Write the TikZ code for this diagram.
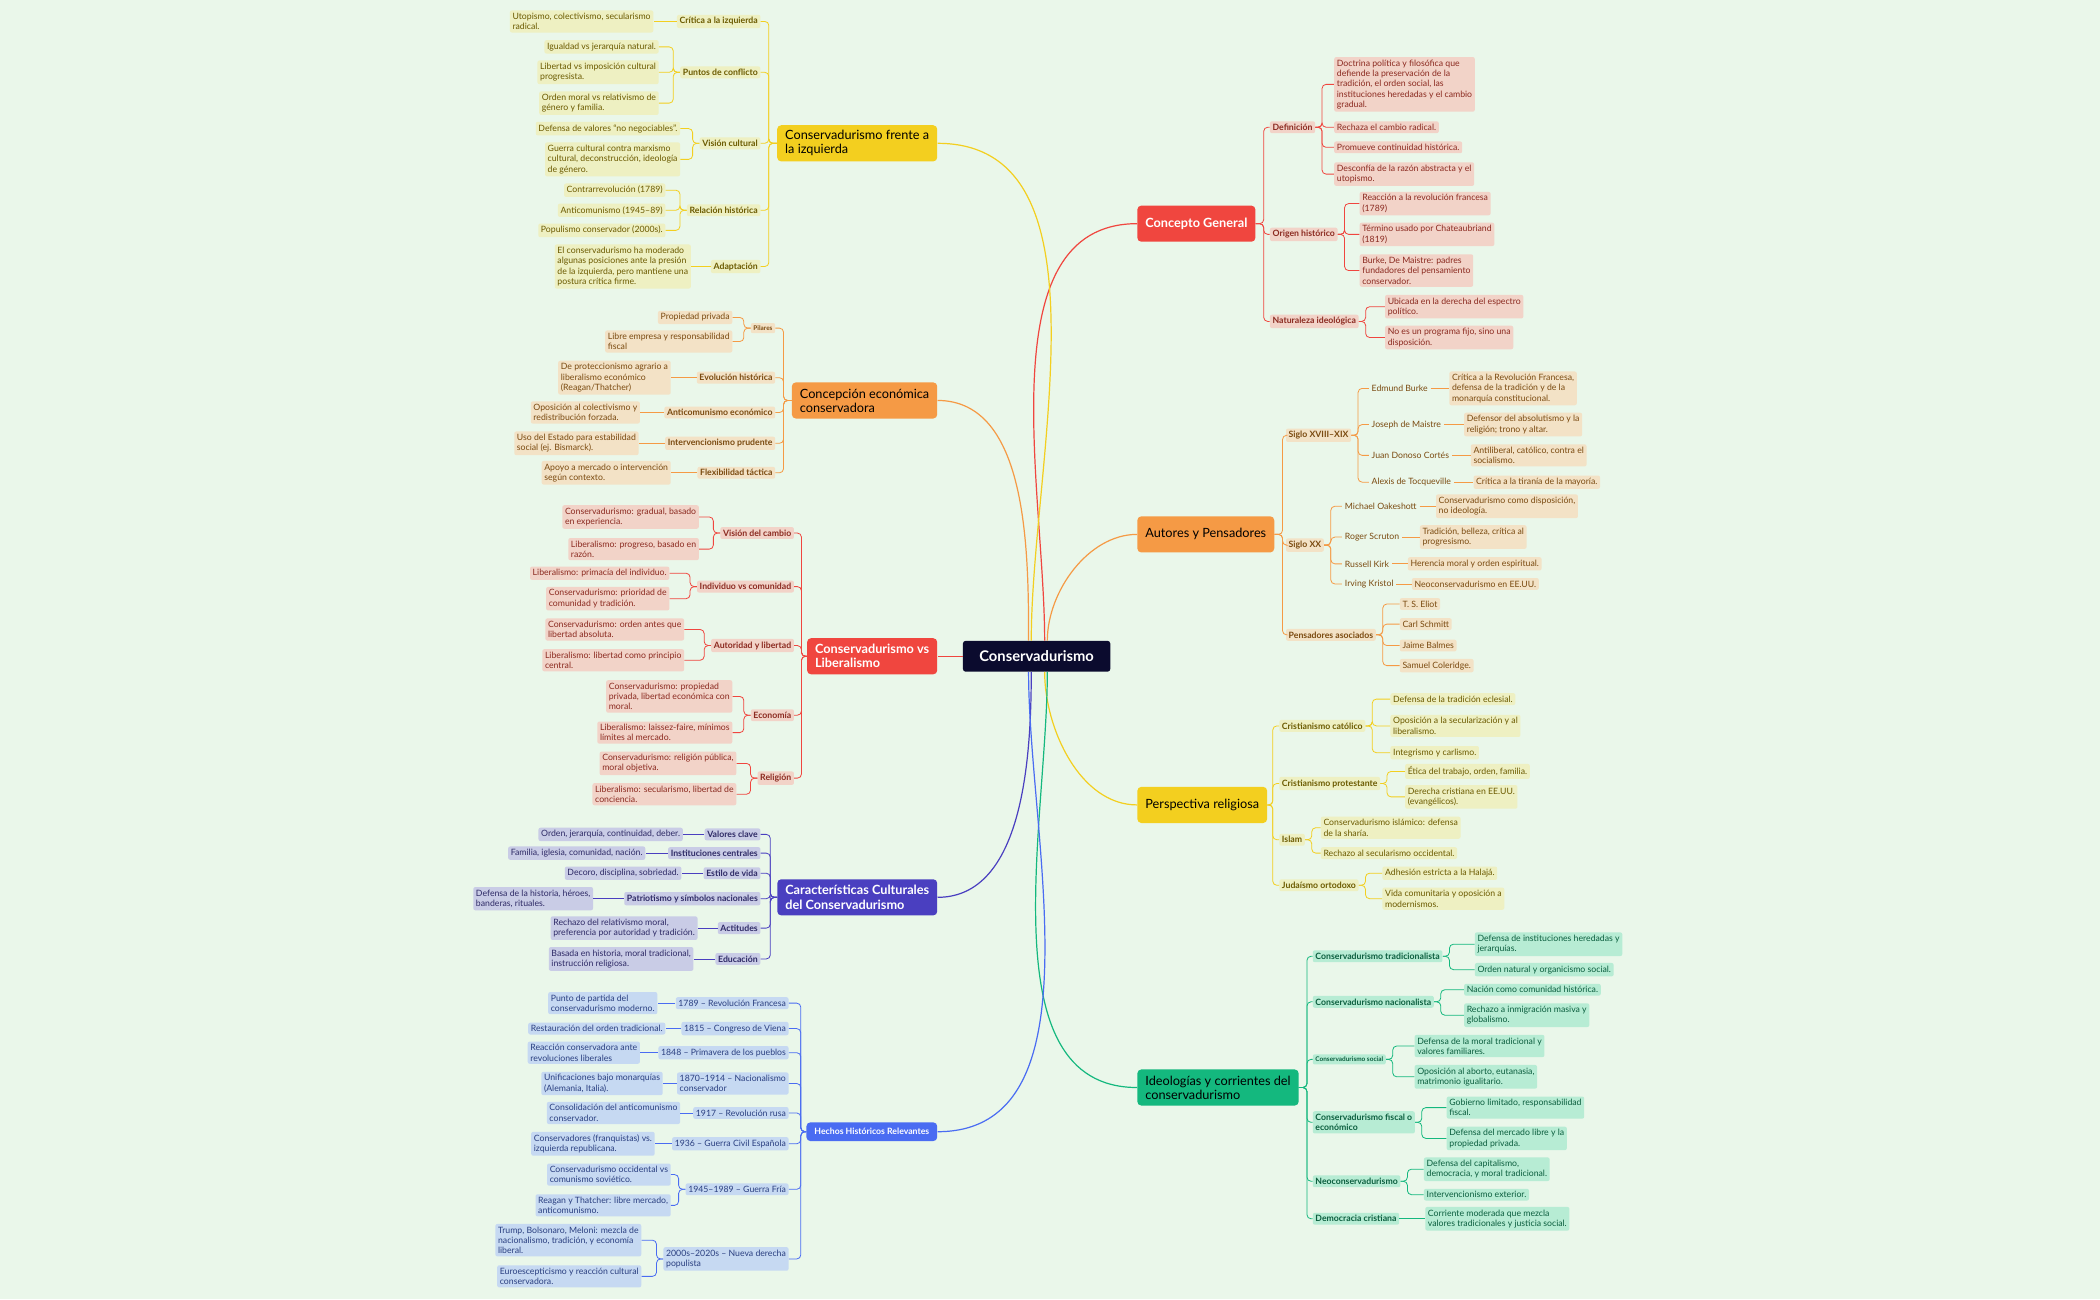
\documentclass[tikz,border=0pt]{standalone}
\usepackage{fontspec}
\setmainfont{Lato}
\usetikzlibrary{positioning}

\definecolor{bgc}{HTML}{EAF7EA}
\definecolor{rootc}{HTML}{0B0B2E}
\definecolor{redm}{HTML}{F0463F}\definecolor{redl}{HTML}{F2D3C8}\definecolor{redt}{HTML}{8B2A20}
\definecolor{orgm}{HTML}{F59A45}\definecolor{orgl}{HTML}{F3E2C6}\definecolor{orgt}{HTML}{7A4A10}
\definecolor{yelm}{HTML}{F3CF1F}\definecolor{yell}{HTML}{EEF0C2}\definecolor{yelt}{HTML}{6B5A00}
\definecolor{grnm}{HTML}{14B87E}\definecolor{grnl}{HTML}{B7ECD4}\definecolor{grnt}{HTML}{0B5E3E}
\definecolor{indm}{HTML}{4A3FC0}\definecolor{indl}{HTML}{C9CCE6}\definecolor{indt}{HTML}{2E2A66}
\definecolor{blum}{HTML}{4A6CF2}\definecolor{blul}{HTML}{C6D9F2}\definecolor{blut}{HTML}{2A3F80}

\tikzset{
  leaf/.style={font=\fontsize{6.5}{7.7}\selectfont, align=left, inner sep=2pt, rounded corners=1.5pt},
  sub/.style={leaf, font=\fontsize{6.5}{7.7}\selectfont\bfseries},
  main/.style={font=\fontsize{9.5}{10.5}\selectfont, align=left, inner xsep=6pt, minimum height=27pt, rounded corners=3pt},
  R/.style={fill=redl, text=redt}, O/.style={fill=orgl, text=orgt}, Y/.style={fill=yell, text=yelt},
  G/.style={fill=grnl, text=grnt}, I/.style={fill=indl, text=indt}, B/.style={fill=blul, text=blut},
  rl/.style={leaf, anchor=west}, ll/.style={leaf, anchor=east},
  rs/.style={sub, anchor=west}, ls/.style={sub, anchor=east},
  link/.style={draw=#1, line width=0.6pt, rounded corners=3pt},
  trunk/.style={draw=#1, line width=0.9pt, looseness=0.9}
}

\begin{document}
\begin{tikzpicture}[x=1pt,y=-1pt]
\fill[bgc] (0,0) rectangle (1568,970);
\useasboundingbox (0,0) rectangle (1568,970);

% root
\node[fill=rootc, text=white, font=\fontsize{11}{12}\selectfont\bfseries, minimum width=110pt, minimum height=23pt, rounded corners=2pt] (root) at (774,490) {Conservadurismo};

% main branches
\node[main, anchor=west, fill=redm, text=white, font=\fontsize{9.5}{10.5}\selectfont\bfseries] (cg) at (849,167) {Concepto General};
\node[main, anchor=west, fill=orgm, text=black] (aut) at (849,399) {Autores y Pensadores};
\node[main, anchor=west, fill=yelm, text=black] (rel) at (849,601) {Perspectiva religiosa};
\node[main, anchor=west, fill=grnm, text=black] (ide) at (849,812) {Ideologías y corrientes del\\conservadurismo};
\node[main, anchor=east, fill=yelm, text=black] (izq) at (700,107) {Conservadurismo frente a\\la izquierda};
\node[main, anchor=east, fill=orgm, text=black] (eco) at (700,299) {Concepción económica\\conservadora};
\node[main, anchor=east, fill=redm, text=white, font=\fontsize{9.5}{10.5}\selectfont\bfseries] (lib) at (700,490) {Conservadurismo vs\\Liberalismo};
\node[main, anchor=east, fill=indm, text=white, font=\fontsize{9.5}{10.5}\selectfont\bfseries] (cul) at (700,670) {Características Culturales\\del Conservadurismo};
\node[main, anchor=east, fill=blum, text=white, minimum height=14pt, font=\fontsize{6.5}{7.5}\selectfont\bfseries] (his) at (700,845) {Hechos Históricos Relevantes};

\draw[trunk=redm] ([xshift=6pt]root.north) to[out=90,in=180] (cg.west);
\draw[trunk=orgm] ([xshift=8pt]root.north) to[out=90,in=180] (aut.west);
\draw[trunk=yelm] ([xshift=6pt]root.south) to[out=-90,in=180] (rel.west);
\draw[trunk=grnm] ([xshift=8pt]root.south) to[out=-90,in=180] (ide.west);
\draw[trunk=yelm] ([xshift=-4pt]root.north) to[out=90,in=0] (izq.east);
\draw[trunk=orgm] ([xshift=-6pt]root.north) to[out=90,in=0] (eco.east);
\draw[trunk=redm] (root.west) -- (lib.east);
\draw[trunk=indm] ([xshift=-4pt]root.south) to[out=-90,in=0] (cul.east);
\draw[trunk=blum] ([xshift=-6pt]root.south) to[out=-90,in=0] (his.east);

% Concepto General
\node[rs, R] (cg1) at (948,95) {Definición};
\node[rs, R] (cg2) at (948,175) {Origen histórico};
\node[rs, R] (cg3) at (948,240) {Naturaleza ideológica};
\node[rl, R] (cg1a) at (996,63) {Doctrina política y filosófica que\\defiende la preservación de la\\tradición, el orden social, las\\instituciones heredadas y el cambio\\gradual.};
\node[rl, R] (cg1b) at (996,95) {Rechaza el cambio radical.};
\node[rl, R] (cg1c) at (996,110) {Promueve continuidad histórica.};
\node[rl, R] (cg1d) at (996,130) {Desconfía de la razón abstracta y el\\utopismo.};
\node[rl, R] (cg2a) at (1015,152) {Reacción a la revolución francesa\\(1789)};
\node[rl, R] (cg2b) at (1015,175) {Término usado por Chateaubriand\\(1819)};
\node[rl, R] (cg2c) at (1015,202) {Burke, De Maistre: padres\\fundadores del pensamiento\\conservador.};
\node[rl, R] (cg3a) at (1034,229) {Ubicada en la derecha del espectro\\político.};
\node[rl, R] (cg3b) at (1034,252) {No es un programa fijo, sino una\\disposición.};
\foreach \n in {cg1,cg2,cg3} \draw[link=redm] (cg.east) -- ++(6,0) |- (\n.west);
\foreach \n in {cg1a,cg1b,cg1c,cg1d} \draw[link=redm] (cg1.east) -- ++(5,0) |- (\n.west);
\foreach \n in {cg2a,cg2b,cg2c} \draw[link=redm] (cg2.east) -- ++(5,0) |- (\n.west);
\foreach \n in {cg3a,cg3b} \draw[link=redm] (cg3.east) -- ++(5,0) |- (\n.west);

% Autores y Pensadores
\node[rs, O] (au1) at (960,325) {Siglo XVIII–XIX};
\node[rs, O] (au2) at (960,407) {Siglo XX};
\node[rs, O] (au3) at (960,474) {Pensadores asociados};
\node[rl, O, fill=none] (au1a) at (1022,290) {Edmund Burke};
\node[rl, O, fill=none] (au1b) at (1022,317) {Joseph de Maistre};
\node[rl, O, fill=none] (au1c) at (1022,340) {Juan Donoso Cortés};
\node[rl, O, fill=none] (au1d) at (1022,360) {Alexis de Tocqueville};
\node[rl, O] (au1ax) at (1082,290) {Crítica a la Revolución Francesa,\\defensa de la tradición y de la\\monarquía constitucional.};
\node[rl, O] (au1bx) at (1093,317) {Defensor del absolutismo y la\\religión; trono y altar.};
\node[rl, O] (au1cx) at (1098,340) {Antiliberal, católico, contra el\\socialismo.};
\node[rl, O] (au1dx) at (1100,360) {Crítica a la tiranía de la mayoría.};
\node[rl, O, fill=none] (au2a) at (1002,378) {Michael Oakeshott};
\node[rl, O, fill=none] (au2b) at (1002,401) {Roger Scruton};
\node[rl, O, fill=none] (au2c) at (1002,421) {Russell Kirk};
\node[rl, O, fill=none] (au2d) at (1002,436) {Irving Kristol};
\node[rl, O] (au2ax) at (1072,378) {Conservadurismo como disposición,\\no ideología.};
\node[rl, O] (au2bx) at (1060,401) {Tradición, belleza, crítica al\\progresismo.};
\node[rl, O] (au2cx) at (1051,421) {Herencia moral y orden espiritual.};
\node[rl, O] (au2dx) at (1054,436) {Neoconservadurismo en EE.UU.};
\node[rl, O] (au3a) at (1045,451) {T. S. Eliot};
\node[rl, O] (au3b) at (1045,466) {Carl Schmitt};
\node[rl, O] (au3c) at (1045,482) {Jaime Balmes};
\node[rl, O] (au3d) at (1045,497) {Samuel Coleridge.};
\foreach \n in {au1,au2,au3} \draw[link=orgm] (aut.east) -- ++(6,0) |- (\n.west);
\foreach \n in {au1a,au1b,au1c,au1d} \draw[link=orgm] (au1.east) -- ++(5,0) |- (\n.west);
\foreach \n in {au2a,au2b,au2c,au2d} \draw[link=orgm] (au2.east) -- ++(5,0) |- (\n.west);
\foreach \n in {au3a,au3b,au3c,au3d} \draw[link=orgm] (au3.east) -- ++(5,0) |- (\n.west);
\foreach \n in {au1a,au1b,au1c,au1d,au2a,au2b,au2c,au2d} \draw[link=orgm] (\n.east) -- (\n x.west);

% Perspectiva religiosa
\node[rs, Y] (re1) at (955,542) {Cristianismo católico};
\node[rs, Y] (re2) at (955,585) {Cristianismo protestante};
\node[rs, Y] (re3) at (955,627) {Islam};
\node[rs, Y] (re4) at (955,661) {Judaísmo ortodoxo};
\node[rl, Y] (re1a) at (1038,522) {Defensa de la tradición eclesial.};
\node[rl, Y] (re1b) at (1038,542) {Oposición a la secularización y al\\liberalismo.};
\node[rl, Y] (re1c) at (1038,562) {Integrismo y carlismo.};
\node[rl, Y] (re2a) at (1049,576) {Ética del trabajo, orden, familia.};
\node[rl, Y] (re2b) at (1049,595) {Derecha cristiana en EE.UU.\\(evangélicos).};
\node[rl, Y] (re3a) at (986,618) {Conservadurismo islámico: defensa\\de la sharía.};
\node[rl, Y] (re3b) at (986,637) {Rechazo al secularismo occidental.};
\node[rl, Y] (re4a) at (1032,652) {Adhesión estricta a la Halajá.};
\node[rl, Y] (re4b) at (1032,671) {Vida comunitaria y oposición a\\modernismos.};
\foreach \n in {re1,re2,re3,re4} \draw[link=yelm] (rel.east) -- ++(4,0) |- (\n.west);
\foreach \n in {re1a,re1b,re1c} \draw[link=yelm] (re1.east) -- ++(5,0) |- (\n.west);
\foreach \n in {re2a,re2b} \draw[link=yelm] (re2.east) -- ++(5,0) |- (\n.west);
\foreach \n in {re3a,re3b} \draw[link=yelm] (re3.east) -- ++(5,0) |- (\n.west);
\foreach \n in {re4a,re4b} \draw[link=yelm] (re4.east) -- ++(5,0) |- (\n.west);

% Ideologias y corrientes
\node[rs, G] (id1) at (980,714) {Conservadurismo tradicionalista};
\node[rs, G] (id2) at (980,748) {Conservadurismo nacionalista};
\node[rs, G, font=\fontsize{4.8}{5.8}\selectfont\bfseries] (id3) at (980,791) {Conservadurismo social};
\node[rs, G] (id4) at (980,838) {Conservadurismo fiscal o\\económico};
\node[rs, G] (id5) at (980,882) {Neoconservadurismo};
\node[rs, G] (id6) at (980,910) {Democracia cristiana};
\node[rl, G] (id1a) at (1101,705) {Defensa de instituciones heredadas y\\jerarquías.};
\node[rl, G] (id1b) at (1101,724) {Orden natural y organicismo social.};
\node[rl, G] (id2a) at (1093,739) {Nación como comunidad histórica.};
\node[rl, G] (id2b) at (1093,758) {Rechazo a inmigración masiva y\\globalismo.};
\node[rl, G] (id3a) at (1056,781) {Defensa de la moral tradicional y\\valores familiares.};
\node[rl, G] (id3b) at (1056,804) {Oposición al aborto, eutanasia,\\matrimonio igualitario.};
\node[rl, G] (id4a) at (1080,827) {Gobierno limitado, responsabilidad\\fiscal.};
\node[rl, G] (id4b) at (1080,850) {Defensa del mercado libre y la\\propiedad privada.};
\node[rl, G] (id5a) at (1063,873) {Defensa del capitalismo,\\democracia, y moral tradicional.};
\node[rl, G] (id5b) at (1063,892) {Intervencionismo exterior.};
\node[rl, G] (id6a) at (1064,910) {Corriente moderada que mezcla\\valores tradicionales y justicia social.};
\foreach \n in {id1,id2,id3,id4,id5,id6} \draw[link=grnm] (ide.east) -- ++(6,0) |- (\n.west);
\foreach \n in {id1a,id1b} \draw[link=grnm] (id1.east) -- ++(5,0) |- (\n.west);
\foreach \n in {id2a,id2b} \draw[link=grnm] (id2.east) -- ++(5,0) |- (\n.west);
\foreach \n in {id3a,id3b} \draw[link=grnm] (id3.east) -- ++(5,0) |- (\n.west);
\foreach \n in {id4a,id4b} \draw[link=grnm] (id4.east) -- ++(5,0) |- (\n.west);
\foreach \n in {id5a,id5b} \draw[link=grnm] (id5.east) -- ++(5,0) |- (\n.west);
\draw[link=grnm] (id6.east) -- (id6a.west);

% Conservadurismo frente a la izquierda
\node[ls, Y] (iz1) at (568,16) {Crítica a la izquierda};
\node[ls, Y] (iz2) at (568,54) {Puntos de conflicto};
\node[ls, Y] (iz3) at (568,107) {Visión cultural};
\node[ls, Y] (iz4) at (568,157) {Relación histórica};
\node[ls, Y] (iz5) at (568,199) {Adaptación};
\node[ll, Y] (iz1a) at (488,16) {Utopismo, colectivismo, secularismo\\radical.};
\node[ll, Y] (iz2a) at (492,35) {Igualdad vs jerarquía natural.};
\node[ll, Y] (iz2b) at (492,54) {Libertad vs imposición cultural\\progresista.};
\node[ll, Y] (iz2c) at (492,77) {Orden moral vs relativismo de\\género y familia.};
\node[ll, Y] (iz3a) at (508,96) {Defensa de valores “no negociables”.};
\node[ll, Y] (iz3b) at (508,119) {Guerra cultural contra marxismo\\cultural, deconstrucción, ideología\\de género.};
\node[ll, Y] (iz4a) at (497,142) {Contrarrevolución (1789)};
\node[ll, Y] (iz4b) at (497,157) {Anticomunismo (1945–89)};
\node[ll, Y] (iz4c) at (497,172) {Populismo conservador (2000s).};
\node[ll, Y] (iz5a) at (516,199) {El conservadurismo ha moderado\\algunas posiciones ante la presión\\de la izquierda, pero mantiene una\\postura crítica firme.};
\foreach \n in {iz1,iz2,iz3,iz4,iz5} \draw[link=yelm] (izq.west) -- ++(-6,0) |- (\n.east);
\draw[link=yelm] (iz1.west) -- (iz1a.east);
\foreach \n in {iz2a,iz2b,iz2c} \draw[link=yelm] (iz2.west) -- ++(-5,0) |- (\n.east);
\foreach \n in {iz3a,iz3b} \draw[link=yelm] (iz3.west) -- ++(-5,0) |- (\n.east);
\foreach \n in {iz4a,iz4b,iz4c} \draw[link=yelm] (iz4.west) -- ++(-5,0) |- (\n.east);
\draw[link=yelm] (iz5.west) -- (iz5a.east);

% Concepcion economica
\node[ls, O, font=\fontsize{4.8}{5.8}\selectfont\bfseries] (ec1) at (579,245) {Pilares};
\node[ls, O] (ec2) at (579,282) {Evolución histórica};
\node[ls, O] (ec3) at (579,308) {Anticomunismo económico};
\node[ls, O] (ec4) at (579,331) {Intervencionismo prudente};
\node[ls, O] (ec5) at (579,353) {Flexibilidad táctica};
\node[ll, O] (ec1a) at (547,237) {Propiedad privada};
\node[ll, O] (ec1b) at (547,255) {Libre empresa y responsabilidad\\fiscal};
\node[ll, O] (ec2a) at (501,282) {De proteccionismo agrario a\\liberalismo económico\\(Reagan/Thatcher)};
\node[ll, O] (ec3a) at (478,308) {Oposición al colectivismo y\\redistribución forzada.};
\node[ll, O] (ec4a) at (477,331) {Uso del Estado para estabilidad\\social (ej. Bismarck).};
\node[ll, O] (ec5a) at (501,353) {Apoyo a mercado o intervención\\según contexto.};
\foreach \n in {ec1,ec2,ec3,ec4,ec5} \draw[link=orgm] (eco.west) -- ++(-6,0) |- (\n.east);
\foreach \n in {ec1a,ec1b} \draw[link=orgm] (ec1.west) -- ++(-5,0) |- (\n.east);
\foreach \n in {2,3,4,5} \draw[link=orgm] (ec\n.west) -- (ec\n a.east);

% Conservadurismo vs Liberalismo
\node[ls, R] (li1) at (593,398) {Visión del cambio};
\node[ls, R] (li2) at (593,438) {Individuo vs comunidad};
\node[ls, R] (li3) at (593,482) {Autoridad y libertad};
\node[ls, R] (li4) at (593,534) {Economía};
\node[ls, R] (li5) at (593,581) {Religión};
\node[ll, R] (li1a) at (522,386) {Conservadurismo: gradual, basado\\en experiencia.};
\node[ll, R] (li1b) at (522,410) {Liberalismo: progreso, basado en\\razón.};
\node[ll, R] (li2a) at (500,428) {Liberalismo: primacía del individuo.};
\node[ll, R] (li2b) at (500,447) {Conservadurismo: prioridad de\\comunidad y tradición.};
\node[ll, R] (li3a) at (511,470) {Conservadurismo: orden antes que\\libertad absoluta.};
\node[ll, R] (li3b) at (511,493) {Liberalismo: libertad como principio\\central.};
\node[ll, R] (li4a) at (547,520) {Conservadurismo: propiedad\\privada, libertad económica con\\moral.};
\node[ll, R] (li4b) at (547,547) {Liberalismo: laissez-faire, mínimos\\límites al mercado.};
\node[ll, R] (li5a) at (550,570) {Conservadurismo: religión pública,\\moral objetiva.};
\node[ll, R] (li5b) at (550,593) {Liberalismo: secularismo, libertad de\\conciencia.};
\foreach \n in {li1,li2,li3,li4,li5} \draw[link=redm] (lib.west) -- ++(-4,0) |- (\n.east);
\foreach \n in {1,2,3,4,5} {
  \draw[link=redm] (li\n.west) -- ++(-5,0) |- (li\n a.east);
  \draw[link=redm] (li\n.west) -- ++(-5,0) |- (li\n b.east);
}

% Caracteristicas culturales
\node[ls, I] (cu1) at (568,623) {Valores clave};
\node[ls, I] (cu2) at (568,637) {Instituciones centrales};
\node[ls, I] (cu3) at (568,652) {Estilo de vida};
\node[ls, I] (cu4) at (568,671) {Patriotismo y símbolos nacionales};
\node[ls, I] (cu5) at (568,693) {Actitudes};
\node[ls, I] (cu6) at (568,716) {Educación};
\node[ll, I] (cu1a) at (510,623) {Orden, jerarquía, continuidad, deber.};
\node[ll, I] (cu2a) at (482,637) {Familia, iglesia, comunidad, nación.};
\node[ll, I] (cu3a) at (509,652) {Decoro, disciplina, sobriedad.};
\node[ll, I] (cu4a) at (443,671) {Defensa de la historia, héroes,\\banderas, rituales.};
\node[ll, I] (cu5a) at (521,693) {Rechazo del relativismo moral,\\preferencia por autoridad y tradición.};
\node[ll, I] (cu6a) at (518,716) {Basada en historia, moral tradicional,\\instrucción religiosa.};
\foreach \n in {1,...,6} {
  \draw[link=indm] (cul.west) -- ++(-5,0) |- (cu\n.east);
  \draw[link=indm] (cu\n.west) -- (cu\n a.east);
}

% Hechos historicos
\node[ll, B] (hi1) at (589,749) {1789 – Revolución Francesa};
\node[ll, B] (hi2) at (589,768) {1815 – Congreso de Viena};
\node[ll, B] (hi3) at (589,786) {1848 – Primavera de los pueblos};
\node[ll, B] (hi4) at (589,809) {1870–1914 – Nacionalismo\\conservador};
\node[ll, B] (hi5) at (589,831) {1917 – Revolución rusa};
\node[ll, B] (hi6) at (589,854) {1936 – Guerra Civil Española};
\node[ll, B] (hi7) at (589,888) {1945–1989 – Guerra Fría};
\node[ll, B] (hi8) at (589,940) {2000s–2020s – Nueva derecha\\populista};
\node[ll, B] (hi1a) at (491,749) {Punto de partida del\\conservadurismo moderno.};
\node[ll, B] (hi2a) at (497,768) {Restauración del orden tradicional.};
\node[ll, B] (hi3a) at (478,786) {Reacción conservadora ante\\revoluciones liberales};
\node[ll, B] (hi4a) at (495,809) {Unificaciones bajo monarquías\\(Alemania, Italia).};
\node[ll, B] (hi5a) at (508,831) {Consolidación del anticomunismo\\conservador.};
\node[ll, B] (hi6a) at (489,854) {Conservadores (franquistas) vs.\\izquierda republicana.};
\node[ll, B] (hi7a) at (501,877) {Conservadurismo occidental vs\\comunismo soviético.};
\node[ll, B] (hi7b) at (501,900) {Reagan y Thatcher: libre mercado,\\anticomunismo.};
\node[ll, B] (hi8a) at (479,926) {Trump, Bolsonaro, Meloni: mezcla de\\nacionalismo, tradición, y economía\\liberal.};
\node[ll, B] (hi8b) at (479,953) {Euroescepticismo y reacción cultural\\conservadora.};
\foreach \n in {1,...,8} \draw[link=blum] (his.west) -- ++(-4,0) |- (hi\n.east);
\foreach \n in {1,...,6} \draw[link=blum] (hi\n.west) -- (hi\n a.east);
\foreach \n in {hi7a,hi7b} \draw[link=blum] (hi7.west) -- ++(-5,0) |- (\n.east);
\foreach \n in {hi8a,hi8b} \draw[link=blum] (hi8.west) -- ++(-5,0) |- (\n.east);
\end{tikzpicture}
\end{document}
